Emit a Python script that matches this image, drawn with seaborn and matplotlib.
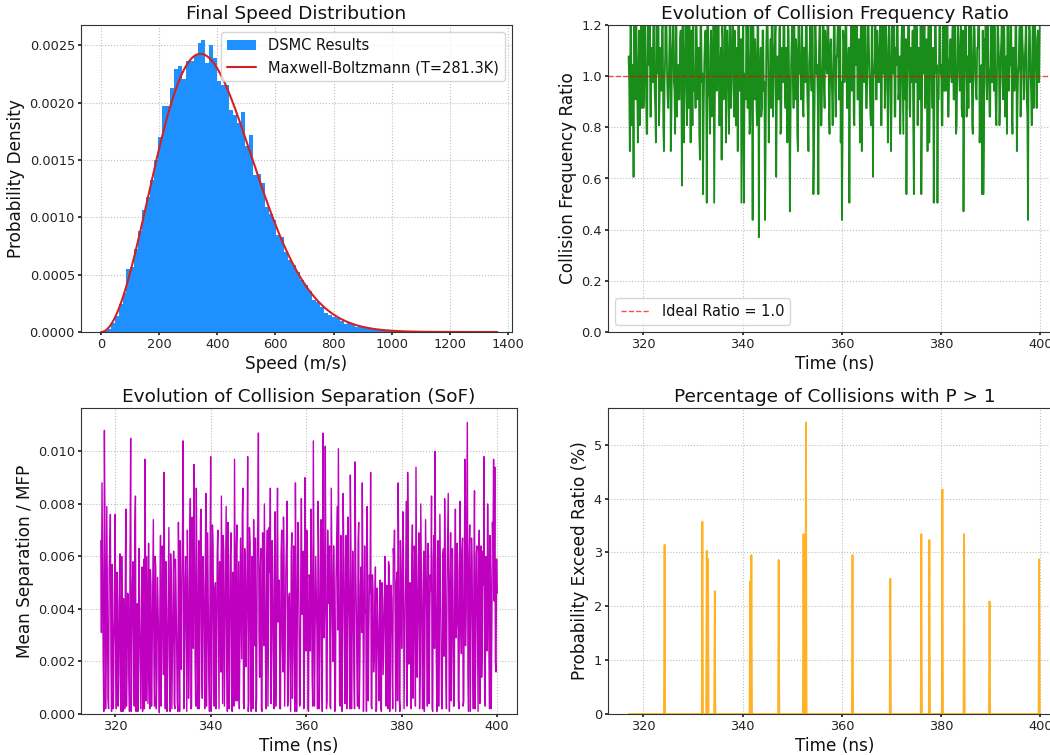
import numpy as np
import pandas as pd
import matplotlib
matplotlib.use("Agg")
import matplotlib.pyplot as plt
import seaborn as sns

# ---------------- data ----------------
# Final speed histogram (probability density per bin)
speed_min, speed_max = 6.0, 1364.0
speed_density = [
    0.00001, 0.00003, 0.00008, 0.00014, 0.00024, 0.00034, 0.00055, 0.00057, 0.00072, 0.00088,
    0.00106, 0.00118, 0.00133, 0.00150, 0.00170, 0.00197, 0.00197, 0.00213, 0.00229, 0.00232,
    0.00221, 0.00236, 0.00236, 0.00242, 0.00252, 0.00255, 0.00235, 0.00250, 0.00239, 0.00219,
    0.00215, 0.00215, 0.00194, 0.00189, 0.00182, 0.00192, 0.00162, 0.00172, 0.00137, 0.00138,
    0.00130, 0.00109, 0.00103, 0.00098, 0.00085, 0.00083, 0.00070, 0.00063, 0.00058, 0.00052,
    0.00045, 0.00041, 0.00036, 0.00028, 0.00026, 0.00022, 0.00017, 0.00015, 0.00013, 0.00012,
    0.00010, 0.00007, 0.00009, 0.00007, 0.00004, 0.00005, 0.00004, 0.00003, 0.00003, 0.00002,
    0.00002, 0.000012, 0.000010, 0.000008, 0.000007, 0.000005, 0.000004, 0.000003, 0.000003, 0.000002,
    0.000002, 0.000001, 0.000002, 0.000001, 0.0, 0.000001, 0.0, 0.0, 0.000001, 0.0,
    0.0, 0.0, 0.0, 0.0, 0.000001, 0.0, 0.0, 0.0, 0.0, 0.000001,
]
gas_temperature = 281.3          # K
argon_mass = 6.6335e-26          # kg
k_boltzmann = 1.380649e-23

# Sampling window of the time series (ns)
t_start, t_end = 317.0, 400.0

# Collisions counted per sampling step, and the expected count per step
collision_counts = [
    32, 29, 21, 36, 35, 24, 28, 31, 18, 38, 33, 27, 39, 33, 27, 22, 30, 35, 24, 30, 36, 26, 31, 40, 26, 28, 41, 34, 29, 23, 23, 37, 34, 31, 38, 25, 25, 33, 30, 29,
    37, 35, 28, 26, 22, 39, 33, 30, 40, 24, 27, 33, 31, 28, 35, 37, 24, 21, 29, 32, 43, 36, 30, 27, 26, 30, 34, 41, 21, 25, 32, 34, 38, 29, 28, 23, 36, 38, 25, 31,
    31, 27, 27, 34, 35, 30, 17, 37, 33, 22, 29, 33, 39, 28, 24, 39, 30, 26, 36, 31, 22, 35, 32, 24, 41, 32, 28, 29, 26, 38, 34, 27, 30, 33, 23, 20, 37, 36, 29, 30,
    16, 25, 31, 34, 35, 31, 15, 39, 38, 28, 27, 23, 33, 35, 25, 30, 30, 37, 15, 26, 36, 32, 28, 29, 42, 40, 24, 24, 31, 33, 20, 36, 34, 27, 29, 31, 37, 22, 26, 35,
    32, 30, 23, 38, 35, 26, 30, 33, 40, 29, 25, 35, 28, 24, 33, 31, 21, 42, 37, 28, 31, 34, 15, 25, 34, 36, 15, 30, 29, 27, 38, 33, 26, 39, 32, 23, 24, 32, 36, 29,
    13, 36, 30, 27, 34, 31, 27, 24, 39, 38, 11, 30, 31, 33, 25, 26, 35, 35, 28, 29, 13, 22, 33, 37, 37, 31, 22, 28, 30, 34, 26, 40, 41, 25, 29, 32, 34, 36, 18, 27,
    32, 30, 27, 35, 36, 23, 24, 33, 30, 29, 39, 38, 28, 26, 33, 31, 22, 36, 35, 28, 14, 24, 31, 34, 38, 30, 26, 39, 29, 27, 34, 32, 23, 21, 40, 35, 30, 31, 27, 37,
    35, 26, 25, 33, 32, 29, 37, 40, 28, 25, 21, 31, 33, 36, 30, 28, 39, 34, 16, 22, 27, 37, 34, 30, 31, 27, 16, 33, 36, 38, 24, 24, 29, 32, 42, 29, 26, 35, 33, 31,
    30, 39, 37, 26, 23, 33, 34, 30, 28, 24, 31, 36, 40, 28, 25, 32, 32, 35, 36, 27, 27, 41, 22, 29, 13, 23, 35, 34, 29, 31, 38, 37, 26, 26, 31, 33, 15, 28, 33, 36,
    28, 30, 36, 25, 24, 38, 32, 31, 39, 27, 27, 34, 30, 22, 34, 36, 21, 29, 37, 33, 29, 40, 33, 26, 26, 31, 41, 35, 31, 28, 25, 24, 35, 37, 18, 30, 30, 32, 38, 27,
    27, 35, 33, 29, 29, 33, 36, 24, 24, 38, 31, 30, 40, 26, 28, 36, 34, 31, 22, 28, 37, 34, 30, 21, 26, 37, 33, 30, 39, 25, 25, 33, 31, 39, 35, 27, 28, 32, 23, 29,
    34, 36, 30, 23, 37, 31, 27, 34, 16, 28, 32, 38, 38, 26, 25, 33, 29, 30, 35, 24, 16, 37, 31, 29, 36, 35, 24, 31, 33, 27, 28, 40, 16, 25, 40, 32, 30, 36, 26, 28,
    34, 30, 21, 34, 37, 22, 29, 37, 32, 29, 26, 33, 15, 26, 35, 39, 30, 31, 15, 27, 27, 35, 38, 30, 31, 24, 24, 36, 33, 28, 36, 32, 28, 38, 41, 25, 25, 31, 32, 34,
    30, 29, 35, 36, 27, 27, 39, 31, 23, 24, 31, 38, 34, 30, 28, 33, 36, 26, 25, 35, 14, 28, 32, 41, 38, 25, 29, 32, 26, 37, 33, 29, 40, 34, 24, 23, 31, 36, 35, 30,
    28, 27, 33, 33, 37, 39, 22, 26, 30, 31, 16, 35, 16, 22, 34, 34, 39, 29, 27, 37, 31, 30, 25, 25, 36, 33, 29, 38, 33, 28, 42, 31, 26, 24, 30, 36, 35, 32, 24, 27,
    32, 34, 38, 29, 27, 37, 34, 25, 29, 32, 23, 40, 36, 28, 31, 31, 40, 35, 26, 23, 33, 33, 28, 30, 37, 38, 21, 26, 30, 31, 35, 36, 25, 29, 39, 34, 32, 27, 28, 32,
    34, 38, 27, 25, 13, 31, 36, 35, 30, 28, 24, 33, 38, 26, 31, 37, 33, 30, 26, 34, 35, 29, 29, 36, 37,
]
expected_collisions = 29.7

# Mean collision-pair separation over mean free path (units of 1e-3)
separation_milli = [
    6.6, 3.1, 8.8, 5.2, 2.1, 0.1, 10.8, 6.9, 0.2, 2.4, 7.9, 4.1, 0.6, 0.2, 5.5, 6.3, 7.6, 1.9, 0.1, 5.7, 4.5, 0.2, 2.6, 3.6, 7.6, 2.0, 0.2, 5.4, 4.2, 0.3, 1.5, 4.8, 6.1, 0.6, 0.1, 6.0, 3.8, 0.1, 4.4, 2.9,
    0.2, 5.1, 7.8, 0.3, 1.9, 4.6, 4.5, 1.4, 0.1, 6.2, 10.5, 0.1, 2.2, 5.0, 5.8, 2.7, 0.3, 7.1, 8.3, 0.1, 3.1, 4.2, 0.1, 1.8, 6.3, 3.4, 1.7, 0.2, 4.4, 5.6, 0.1, 2.3, 5.9, 0.2, 9.7, 4.4, 0.5, 6.0, 3.2, 0.4,
    6.5, 2.2, 0.2, 5.5, 4.9, 0.3, 2.3, 4.8, 7.4, 1.9, 0.3, 6.0, 5.6, 0.2, 1.4, 5.2, 3.9, 2.6, 0.05, 4.3, 6.8, 0.3, 2.8, 6.4, 5.2, 1.5, 9.2, 3.9, 0.2, 5.8, 4.1, 0.1, 1.9, 4.6, 7.1, 2.1, 0.1, 6.1, 5.0, 0.2,
    2.4, 4.5, 6.2, 0.4, 0.2, 5.9, 4.6, 2.8, 0.5, 0.1, 7.3, 4.1, 0.1, 6.6, 3.6, 1.7, 5.4, 7.2, 10.4, 0.2, 1.6, 5.1, 6.0, 3.3, 0.1, 7.0, 4.8, 0.6, 2.0, 6.7, 8.2, 0.2, 0.3, 7.5, 5.7, 2.5, 9.5, 6.2, 1.8, 0.3,
    8.6, 5.3, 0.2, 2.4, 6.6, 0.2, 3.0, 7.4, 7.8, 1.8, 0.6, 6.0, 5.1, 3.2, 0.2, 5.6, 8.4, 0.3, 2.5, 6.9, 4.3, 1.4, 0.1, 5.5, 9.8, 0.1, 1.5, 7.2, 6.4, 2.9, 0.3, 4.7, 5.0, 0.2, 2.2, 6.1, 7.0, 3.5, 0.2, 5.8,
    4.7, 1.6, 8.3, 4.4, 0.4, 6.8, 6.2, 0.3, 2.9, 5.2, 7.9, 2.1, 0.1, 7.3, 5.3, 0.2, 1.7, 6.0, 6.9, 3.0, 0.1, 5.4, 4.0, 0.3, 9.7, 4.9, 0.5, 6.3, 7.2, 0.5, 3.4, 5.8, 0.2, 2.7, 6.7, 4.2, 2.1, 7.6, 8.6, 0.4,
    0.2, 6.3, 5.9, 1.8, 3.3, 5.7, 9.8, 0.1, 0.5, 7.1, 6.5, 2.4, 0.1, 6.0, 4.9, 0.2, 7.4, 4.6, 2.6, 6.7, 0.1, 0.6, 5.8, 7.3, 10.7, 3.1, 1.4, 5.5, 6.3, 0.2, 0.1, 6.9, 4.4, 2.6, 8.0, 5.2, 1.9, 0.2, 5.6, 7.0,
    0.3, 3.8, 7.1, 5.4, 8.6, 0.4, 2.3, 6.6, 5.0, 2.0, 0.2, 5.9, 7.7, 0.3, 1.6, 6.2, 8.6, 3.5, 3.9, 5.1, 0.2, 0.2, 6.1, 7.0, 2.7, 1.6, 7.5, 5.8, 0.3, 3.0, 5.4, 6.5, 8.1, 0.3, 0.6, 4.4, 4.6, 2.3, 0.1, 6.1,
    6.9, 0.6, 2.2, 6.4, 5.7, 0.1, 8.8, 5.0, 0.1, 2.9, 7.3, 6.8, 3.6, 0.3, 0.4, 5.5, 8.2, 3.8, 4.5, 6.2, 0.2, 1.5, 9.0, 4.9, 2.4, 7.0, 6.6, 0.2, 0.1, 5.3, 5.2, 2.4, 7.8, 6.0, 1.5, 0.3, 10.4, 5.7, 0.3, 3.3,
    6.0, 4.6, 3.1, 0.2, 8.1, 6.3, 0.2, 2.2, 5.5, 7.4, 1.8, 0.1, 10.7, 6.1, 2.9, 4.0, 10.2, 5.6, 0.2, 0.5, 7.0, 4.8, 4.2, 6.4, 0.3, 0.2, 8.6, 5.9, 3.5, 2.0, 6.4, 4.7, 0.1, 0.5, 5.1, 6.6, 7.9, 3.2, 10.1, 5.4,
    0.5, 0.3, 6.8, 5.2, 0.1, 3.6, 8.4, 6.0, 2.7, 0.4, 5.9, 6.8, 0.2, 2.5, 7.5, 5.1, 3.3, 0.2, 9.1, 6.3, 0.2, 2.9, 6.2, 4.5, 1.6, 0.2, 9.6, 5.7, 4.1, 1.9, 0.3, 6.5, 7.3, 0.2, 2.0, 4.9, 5.6, 3.1, 8.8, 5.3,
    0.1, 2.6, 6.4, 4.0, 3.8, 0.1, 7.9, 5.1, 0.5, 3.2, 5.3, 4.6, 9.2, 0.3, 0.2, 5.3, 4.7, 1.6, 2.2, 4.1, 5.6, 0.1, 0.2, 4.8, 3.9, 2.4, 0.5, 3.6, 5.1, 0.3, 0.1, 5.0, 4.4, 1.5, 2.8, 4.3, 6.0, 2.1, 0.3, 4.9,
    3.5, 0.2, 5.8, 5.6, 0.1, 2.9, 4.9, 4.4, 1.7, 0.2, 6.3, 5.9, 7.0, 3.4, 0.1, 5.0, 5.4, 0.5, 8.8, 6.4, 0.6, 0.1, 6.6, 5.2, 2.5, 4.1, 7.7, 6.1, 0.2, 2.2, 4.3, 5.6, 8.1, 0.3, 9.2, 6.7, 1.9, 3.0, 5.0, 4.5,
    0.2, 5.8, 7.2, 0.6, 3.0, 6.4, 6.1, 0.3, 9.4, 5.5, 1.4, 3.3, 5.7, 6.9, 0.2, 1.6, 8.0, 5.1, 2.6, 0.2, 4.8, 6.2, 0.1, 2.8, 7.4, 5.4, 3.7, 0.3, 6.5, 6.0, 0.4, 3.6, 5.3, 4.7, 8.3, 0.2, 0.1, 5.8, 6.8, 2.5,
    10.0, 4.8, 2.1, 0.1, 5.9, 6.6, 0.3, 3.0, 7.6, 5.2, 3.2, 0.2, 0.2, 6.1, 6.3, 2.2, 8.2, 5.7, 1.5, 0.2, 5.0, 6.8, 8.4, 3.5, 0.1, 5.0, 6.9, 0.5, 2.8, 6.3, 4.6, 0.3, 0.3, 5.4, 7.8, 2.9, 3.4, 6.5, 5.5, 0.5,
    0.2, 5.9, 8.1, 3.4, 2.3, 6.2, 6.7, 0.3, 0.5, 5.6, 9.7, 2.6, 4.0, 7.3, 11.1, 1.5, 0.1, 6.0, 7.2, 0.1, 3.6, 6.7, 5.8, 2.2, 0.2, 5.3, 8.5, 0.2, 2.0, 6.1, 6.4, 3.3, 0.1, 5.5, 7.0, 0.4, 4.9, 6.4, 1.4, 2.7,
    6.2, 4.9, 9.8, 0.5, 0.3, 6.0, 5.5, 2.4, 8.0, 5.7, 2.7, 0.2, 6.8, 5.2, 0.2, 3.1, 7.3, 6.6, 9.7, 4.3, 9.4, 2.0, 1.6, 5.9, 4.6,
]

# Steps where collision probability exceeded 1: time (ns) and share of collisions (%)
exceed_times = [324.3, 331.9, 332.7, 333.0, 334.4, 341.5, 341.8, 347.3, 352.2, 352.7,
                362.1, 369.7, 376.0, 377.6, 380.2, 384.6, 389.7, 399.8]
exceed_percent = [3.14, 3.57, 3.03, 2.88, 2.28, 2.46, 2.95, 2.86, 3.34, 5.41,
                  2.95, 2.51, 3.34, 3.23, 4.17, 3.34, 2.09, 2.87]

# ---------------- derived tables ----------------
n_bins = len(speed_density)
edges = np.linspace(speed_min, speed_max, n_bins + 1)
centers = 0.5 * (edges[:-1] + edges[1:])
hist_df = pd.DataFrame({"speed": centers, "density": speed_density})

v = np.linspace(0, speed_max, 600)
a = argon_mass / (2 * k_boltzmann * gas_temperature)
mb_pdf = 4 * np.pi * (a / np.pi) ** 1.5 * v ** 2 * np.exp(-a * v ** 2)

n_steps = min(len(collision_counts), len(separation_milli))
time_ns = np.linspace(t_start, t_end, n_steps)
ratio = np.array(collision_counts[:n_steps]) / expected_collisions
separation = np.array(separation_milli[:n_steps]) * 1e-3
exceed = np.zeros(n_steps)
for t, p in zip(exceed_times, exceed_percent):
    exceed[int(np.argmin(np.abs(time_ns - t)))] = p

ts_df = pd.DataFrame({"time": time_ns, "ratio": ratio,
                      "separation": separation, "exceed": exceed})

# ---------------- styling ----------------
sns.set_theme(style="ticks", rc={
    "axes.titlesize": 13.3,
    "axes.titlepad": 4.5,
    "axes.labelsize": 12.2,
    "axes.labelpad": 3.0,
    "xtick.labelsize": 9.3,
    "ytick.labelsize": 9.3,
    "legend.fontsize": 10.5,
    "axes.edgecolor": "#333333",
    "axes.linewidth": 0.8,
    "xtick.major.size": 2.4,
    "ytick.major.size": 2.4,
    "xtick.major.pad": 2.0,
    "ytick.major.pad": 2.0,
    "xtick.color": "#222222",
    "ytick.color": "#222222",
    "text.color": "#111111",
    "axes.labelcolor": "#111111",
})
plt.rcParams["font.family"] = ["DejaVu Sans"]

W, H = 1050, 755
fig = plt.figure(figsize=(W / 100, H / 100), dpi=100)


def px_axes(left, top, right, bottom):
    return fig.add_axes([left / W, 1 - bottom / H, (right - left) / W, (bottom - top) / H])


ax1 = px_axes(81, 25, 512, 332)
ax2 = px_axes(608, 25, 1061, 332)
ax3 = px_axes(81, 408, 517, 714)
ax4 = px_axes(608, 408, 1061, 714)

grid_kw = dict(linestyle=":", linewidth=0.8, color="#b8b8b8", alpha=0.9)

# Final speed distribution
sns.histplot(data=hist_df, x="speed", weights="density", bins=n_bins,
             binrange=(speed_min, speed_max), stat="count",
             color="#1e90ff", alpha=1.0, linewidth=0, ax=ax1, label="DSMC Results")
sns.lineplot(x=v, y=mb_pdf, color="#d42020", linewidth=1.5, ax=ax1,
             label=f"Maxwell-Boltzmann (T={gas_temperature}K)")
ax1.set_xlim(-69, 1414)
ax1.set_title("Final Speed Distribution")
ax1.set_xlabel("Speed (m/s)")
ax1.set_ylabel("Probability Density")
handles, labels = ax1.get_legend_handles_labels()
order = sorted(range(len(labels)), key=lambda i: labels[i] != "DSMC Results")
ax1.legend([handles[i] for i in order], [labels[i] for i in order], loc="upper right")
ax1.grid(True, **grid_kw)

# Collision frequency ratio
sns.lineplot(data=ts_df, x="time", y="ratio", color="#008000", alpha=0.9,
             linewidth=1.3, ax=ax2, estimator=None)
ax2.axhline(1.0, color="#ff0000", linestyle="--", linewidth=1.0, alpha=0.7,
            label="Ideal Ratio = 1.0")
ax2.set_ylim(0, 1.2)
ax2.set_title("Evolution of Collision Frequency Ratio")
ax2.set_xlabel("Time (ns)")
ax2.set_ylabel("Collision Frequency Ratio")
ax2.legend(loc="lower left")
ax2.grid(True, **grid_kw)

# Collision separation
sns.lineplot(data=ts_df, x="time", y="separation", color="#bf00bf", linewidth=1.0,
             ax=ax3, estimator=None)
ax3.set_ylim(bottom=0)
ax3.set_title("Evolution of Collision Separation (SoF)")
ax3.set_xlabel("Time (ns)")
ax3.set_ylabel("Mean Separation / MFP")
ax3.grid(True, **grid_kw)

# Share of collisions with P > 1
sns.lineplot(data=ts_df, x="time", y="exceed", color="#ffa500", alpha=0.85,
             linewidth=1.3, ax=ax4, estimator=None)
ax4.set_ylim(bottom=0)
ax4.set_title("Percentage of Collisions with P > 1")
ax4.set_xlabel("Time (ns)")
ax4.set_ylabel("Probability Exceed Ratio (%)")
ax4.grid(True, **grid_kw)

for ax in (ax1, ax2, ax3, ax4):
    ax.set_axisbelow(True)

fig.savefig("out.png", dpi=100)
